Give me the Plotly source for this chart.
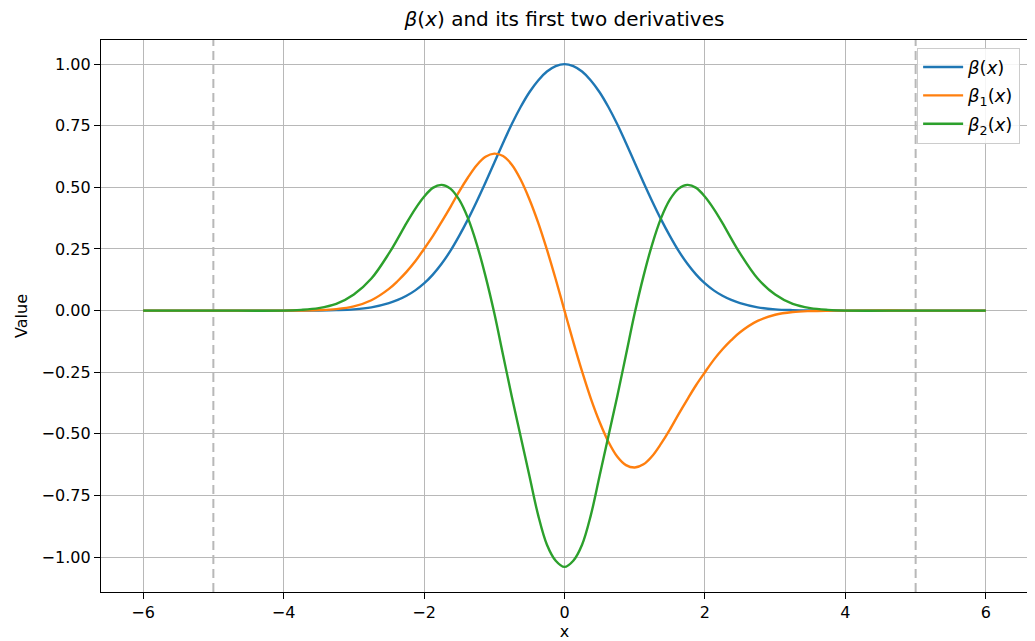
import plotly.graph_objects as go

x_pos = [0.0, 0.125, 0.25, 0.375, 0.5, 0.625, 0.75, 0.875, 1.0, 1.125, 1.25, 1.375, 1.5,
         1.625, 1.75, 1.875, 2.0, 2.125, 2.25, 2.375, 2.5, 2.75, 3.0, 3.25, 3.5, 3.75, 4.0, 5.0, 6.0]

# beta(x): even
beta_pos = [1.0, 0.992, 0.97, 0.934, 0.886, 0.826, 0.757, 0.68, 0.60, 0.52, 0.443, 0.37, 0.303,
            0.242, 0.19, 0.146, 0.11, 0.082, 0.06, 0.043, 0.03, 0.013, 0.005, 0.0018, 0.0005, 0.0001,
            0.0, 0.0, 0.0]

# beta_1(x): odd (values for x >= 0)
beta1_pos = [0.0, -0.127, -0.247, -0.357, -0.452, -0.532, -0.592, -0.627, -0.637, -0.624, -0.59,
             -0.54, -0.483, -0.42, -0.36, -0.302, -0.25, -0.2, -0.157, -0.12, -0.088, -0.042, -0.017,
             -0.006, -0.002, -0.0005, 0.0, 0.0, 0.0]

# beta_2(x): even
beta2_pos = [-1.04, -1.015, -0.95, -0.83, -0.67, -0.51, -0.35, -0.18, -0.01, 0.14, 0.27, 0.375,
             0.45, 0.495, 0.51, 0.498, 0.462, 0.413, 0.355, 0.292, 0.232, 0.13, 0.065, 0.027, 0.01,
             0.003, 0.0, 0.0, 0.0]

support_edges = [-5, 5]

# full curves over [-6, 6]
x_vals = [-v for v in x_pos[:0:-1]] + x_pos
beta = beta_pos[:0:-1] + beta_pos
beta1 = [-v for v in beta1_pos[:0:-1]] + beta1_pos
beta2 = beta2_pos[:0:-1] + beta2_pos

series_names = ["<i>β</i>(<i>x</i>)", "<i>β</i><sub>1</sub>(<i>x</i>)", "<i>β</i><sub>2</sub>(<i>x</i>)"]
series_colors = ["#1f77b4", "#ff7f0e", "#2ca02c"]

fig = go.Figure()
for i, (name, ys, col) in enumerate(zip(series_names, [beta, beta1, beta2], series_colors)):
    fig.add_trace(go.Scatter(x=x_vals, y=ys, mode="lines", name=name, legendgroup=f"g{i}",
                             line=dict(color=col, width=2.4, shape="spline", smoothing=1.0)))

for xe in support_edges:
    fig.add_vline(x=xe, line=dict(color="#b8b8b8", width=2, dash="9px,5px"), layer="below")

axis_common = dict(showline=True, mirror=True, linecolor="black", linewidth=1.3,
                   ticks="outside", ticklen=6, tickwidth=1.3, tickcolor="black",
                   showgrid=True, gridcolor="#b8b8b8", gridwidth=1.4, zeroline=False,
                   automargin=False, tickfont=dict(size=16, color="black"))

fig.update_xaxes(range=[-6.6, 6.6], tickvals=[-6, -4, -2, 0, 2, 4, 6],
                 ticktext=["−6", "−4", "−2", "0", "2", "4", "6"],
                 title=dict(text="x", font=dict(size=16, color="black"), standoff=6), **axis_common)
fig.update_yaxes(range=[-1.142, 1.098],
                 tickvals=[-1.0, -0.75, -0.5, -0.25, 0.0, 0.25, 0.5, 0.75, 1.0],
                 ticktext=["−1.00", "−0.75", "−0.50", "−0.25", "0.00", "0.25", "0.50", "0.75", "1.00"],
                 title=dict(text="Value", font=dict(size=16, color="black"), standoff=10), **axis_common)

fig.update_layout(
    width=1027, height=633,
    margin=dict(l=93, r=7, t=32, b=49),
    paper_bgcolor="white", plot_bgcolor="white",
    font=dict(family="DejaVu Sans", color="black"),
    title=dict(text="<i>β</i>(<i>x</i>) and its first two derivatives", x=0.5, xanchor="center",
               xref="paper", y=0.9825, yanchor="middle", font=dict(size=20, color="black")),
    legend=dict(x=0.9915, y=0.986, xanchor="right", yanchor="top",
                bgcolor="rgba(255,255,255,0.85)", bordercolor="#cccccc", borderwidth=1,
                font=dict(size=18, color="black"), itemwidth=40, tracegroupgap=2),
    showlegend=True,
)

fig.write_html("out.html")
